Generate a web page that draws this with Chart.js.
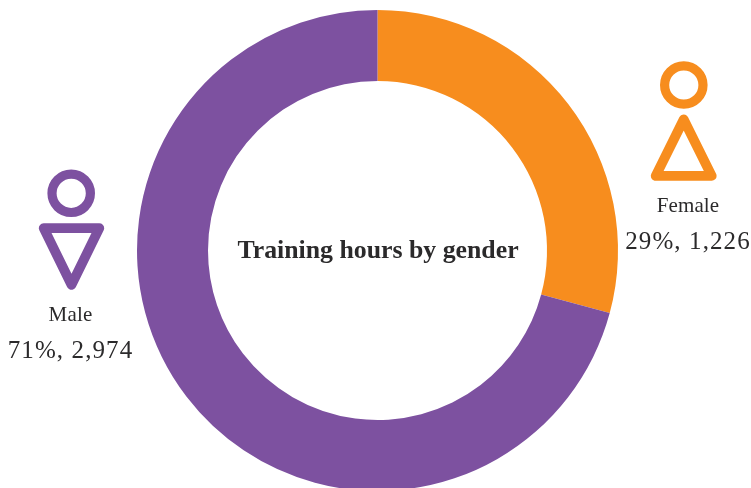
<!DOCTYPE html>
<html><head><meta charset="utf-8">
<script src="https://cdn.jsdelivr.net/npm/chart.js@4"></script>
<style>html,body{margin:0;padding:0;background:#fff;overflow:hidden;width:751px;height:488px}canvas{position:absolute;left:0;top:0}</style>
</head><body><canvas id="c" width="755" height="501"></canvas>
<script>
const categories = ["Female", "Male"];
const hours = [1226, 2974];
const percentLabels = ["29%, 1,226", "71%, 2,974"];
const sliceColors = ["#F78D1E", "#7D51A0"];
const chartTitle = "Training hours by gender";
const serif = '"Liberation Serif","DejaVu Serif",serif';
const ink = "#2b2a2b";

function drawText(ctx, s, x, y, font, spacing) {
  ctx.font = font; ctx.fillStyle = ink; ctx.textAlign = "center"; ctx.textBaseline = "alphabetic";
  ctx.letterSpacing = spacing || "0px";
  ctx.fillText(s, x, y);
}
function ring(ctx, x, y, color) {
  ctx.strokeStyle = color; ctx.lineWidth = 9.2;
  ctx.beginPath(); ctx.arc(x, y, 19.2, 0, Math.PI * 2); ctx.stroke();
}
function tri(ctx, pts, color) {
  ctx.strokeStyle = color; ctx.lineWidth = 9.8; ctx.lineJoin = "round";
  ctx.beginPath(); ctx.moveTo(pts[0], pts[1]); ctx.lineTo(pts[2], pts[3]); ctx.lineTo(pts[4], pts[5]); ctx.closePath(); ctx.stroke();
}
const decorations = {
  id: "decorations",
  afterDraw(chart) {
    const ctx = chart.ctx; ctx.save();
    ring(ctx, 683.8, 85, sliceColors[0]);
    tri(ctx, [683.7, 119.5, 655.7, 175.9, 711.7, 175.9], sliceColors[0]);
    ring(ctx, 71.2, 193.3, sliceColors[1]);
    tri(ctx, [43.7, 228.2, 99.3, 228.2, 71.5, 284.8], sliceColors[1]);
    drawText(ctx, categories[0], 688, 212, "21px " + serif, "0.1px");
    drawText(ctx, percentLabels[0], 688, 249, "25px " + serif, "1.1px");
    drawText(ctx, categories[1], 70.5, 321, "21px " + serif, "0.2px");
    drawText(ctx, percentLabels[1], 70.5, 358, "25px " + serif, "1.1px");
    drawText(ctx, chartTitle, 378, 258, "bold 25.8px " + serif);
    ctx.restore();
  }
};
new Chart(document.getElementById("c"), {
  type: "doughnut",
  data: { labels: categories, datasets: [{ data: hours, backgroundColor: sliceColors, borderWidth: 0 }] },
  options: {
    responsive: false, animation: false, cutout: 169.5,
    layout: { padding: 10 },
    plugins: { legend: { display: false }, tooltip: { enabled: false }, title: { display: false } }
  },
  plugins: [decorations]
});
</script></body></html>
